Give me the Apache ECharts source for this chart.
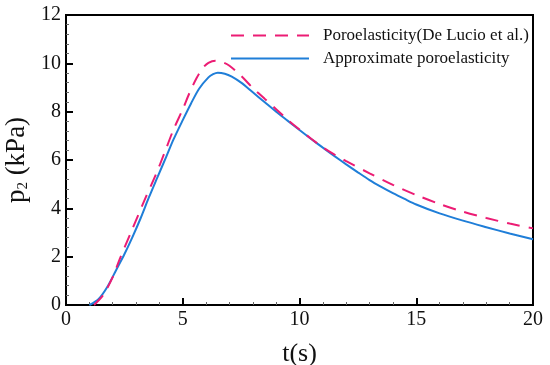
<!DOCTYPE html>
<html>
<head>
<meta charset="utf-8">
<script src="https://cdn.jsdelivr.net/npm/echarts@6/dist/echarts.min.js"></script>
<style>html,body{margin:0;padding:0;background:#fff;}#c{width:550px;height:365px;}</style>
</head>
<body>
<div id="c"></div>
<script>
var seriesNames = ['Poroelasticity(De Lucio et al.)', 'Approximate poroelasticity'];
var xTicks = [0, 5, 10, 15, 20];
var yTicks = [0, 2, 4, 6, 8, 10, 12];
var poroT = [1.2, 1.6, 2.0, 2.3, 2.8, 3.4, 3.85, 4.2, 4.6, 5.0, 5.3, 5.6, 5.85, 6.1, 6.4, 6.7, 7.0, 7.5, 8.0, 8.5, 9.0, 9.5, 10.0, 10.5, 11.0, 11.5, 12.0, 13.0, 14.0, 15.0, 16.0, 17.0, 18.0, 19.0, 20.0];
var poroV = [0.0, 0.42, 1.15, 1.9, 3.05, 4.42, 5.4, 6.25, 7.25, 8.1, 8.8, 9.4, 9.8, 10.02, 10.11, 10.05, 9.9, 9.48, 8.98, 8.54, 8.1, 7.66, 7.26, 6.88, 6.52, 6.22, 5.95, 5.45, 4.97, 4.55, 4.18, 3.86, 3.6, 3.37, 3.17];
var approxT = [1.0, 1.4, 1.8, 2.15, 2.5, 2.85, 3.2, 3.55, 3.9, 4.3, 4.6, 5.0, 5.35, 5.7, 6.1, 6.3, 6.5, 6.8, 7.1, 7.5, 8.0, 8.5, 9.0, 9.5, 10.0, 10.5, 11.0, 11.5, 12.0, 12.5, 13.0, 13.5, 14.0, 14.5, 15.0, 16.0, 17.0, 18.0, 19.0, 20.0];
var approxV = [0.0, 0.25, 0.8, 1.45, 2.1, 2.82, 3.6, 4.45, 5.25, 6.15, 6.84, 7.65, 8.33, 8.95, 9.42, 9.55, 9.61, 9.57, 9.45, 9.2, 8.8, 8.4, 8.0, 7.62, 7.24, 6.87, 6.51, 6.16, 5.82, 5.49, 5.17, 4.89, 4.63, 4.39, 4.16, 3.79, 3.49, 3.22, 2.96, 2.72];

function pairs(t, v) { return t.map(function (x, i) { return [x, v[i]]; }); }

var font = 'Liberation Serif, Times New Roman, serif';
var chart = echarts.init(document.getElementById('c'), null, { renderer: 'canvas' });
chart.setOption({
  backgroundColor: '#fff',
  animation: false,
  grid: { left: 66, right: 17, top: 15, bottom: 60, outerBoundsMode: 'none', containLabel: false, show: true, borderColor: '#000', borderWidth: 2, backgroundColor: 'transparent' },
  legend: {
    orient: 'vertical', left: 230, top: 27, padding: 0, itemWidth: 78, itemHeight: 12, itemGap: 6,
    itemStyle: { opacity: 0 },
    textStyle: { fontFamily: font, fontSize: 17, color: '#111', padding: [0, 0, 0, 9] },
    data: seriesNames
  },
  xAxis: {
    type: 'value', min: xTicks[0], max: xTicks[xTicks.length - 1], interval: 5,
    name: 't(s)', nameLocation: 'middle', nameGap: 36,
    nameTextStyle: { fontFamily: font, fontSize: 26, color: '#111' },
    axisLine: { lineStyle: { color: '#000', width: 2 } },
    axisTick: { inside: true, length: 7, lineStyle: { color: '#000', width: 2 } },
    minorTick: { show: true, splitNumber: 5, length: 3, lineStyle: { color: '#666', width: 1 } },
    axisLabel: { fontFamily: font, fontSize: 20, color: '#111', margin: 5 },
    splitLine: { show: false }
  },
  yAxis: {
    type: 'value', min: yTicks[0], max: yTicks[yTicks.length - 1], interval: 2,
    name: '{a|p}{b|2}{a| (kPa)}', nameLocation: 'middle', nameGap: 34, nameRotate: 90,
    nameTextStyle: {
      color: '#111',
      rich: {
        a: { fontFamily: font, fontSize: 27, color: '#111' },
        b: { fontFamily: font, fontSize: 15, color: '#111', verticalAlign: 'bottom', padding: [12, 0, 0, 0] }
      }
    },
    axisLine: { lineStyle: { color: '#000', width: 2 } },
    axisTick: { inside: true, length: 7, lineStyle: { color: '#000', width: 2 } },
    minorTick: { show: true, splitNumber: 5, length: 3, lineStyle: { color: '#666', width: 1 } },
    axisLabel: { fontFamily: font, fontSize: 20, color: '#111', margin: 5 },
    splitLine: { show: false }
  },
  series: [
    {
      name: seriesNames[0], type: 'line', smooth: 0.3, symbol: 'none', showSymbol: false,
      data: pairs(poroT, poroV),
      lineStyle: { color: '#ec1c74', width: 2, type: [13, 9] },
      itemStyle: { color: '#ec1c74' }, z: 3
    },
    {
      name: seriesNames[1], type: 'line', smooth: 0.3, symbol: 'none', showSymbol: false,
      data: pairs(approxT, approxV),
      lineStyle: { color: '#1f7ed8', width: 2 },
      itemStyle: { color: '#1f7ed8' }, z: 2
    }
  ]
});
</script>
</body>
</html>
